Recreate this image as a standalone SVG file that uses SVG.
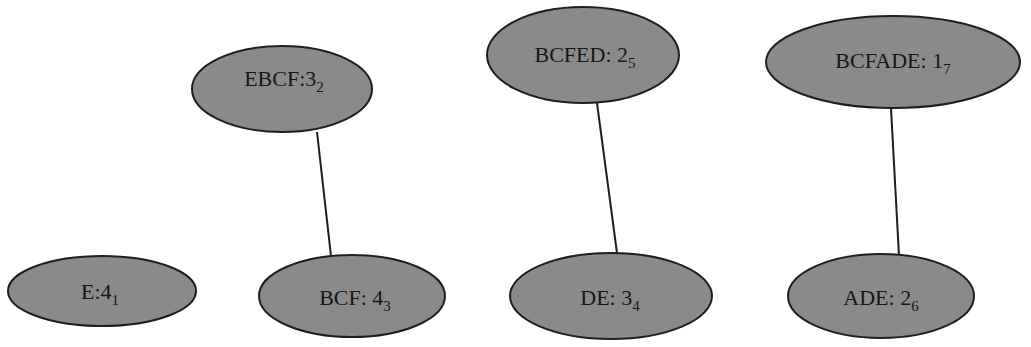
<svg xmlns="http://www.w3.org/2000/svg" width="1031" height="347" viewBox="0 0 1031 347">
<style>
.n{fill:#8a8a8a;stroke:#1e1e1e;stroke-width:2}
.t{font-family:"Liberation Serif",serif;font-size:22px;fill:#161616;text-anchor:middle}
.s{font-size:15px}
.e{stroke:#1e1e1e;stroke-width:2;fill:none}
</style>
<rect width="1031" height="347" fill="#ffffff"/>
<g id="edges">
<line class="e" x1="317" y1="132" x2="331" y2="256"/>
<line class="e" x1="597" y1="103" x2="617" y2="253"/>
<line class="e" x1="891" y1="108" x2="899" y2="256"/>
</g>
<g id="n1"><ellipse class="n" cx="282" cy="89" rx="90" ry="43"/><text class="t" x="284" y="86">EBCF:3<tspan class="s" dy="6">2</tspan></text></g>
<g id="n2"><ellipse class="n" cx="583" cy="55" rx="96" ry="48"/><text class="t" x="585" y="62">BCFED: 2<tspan class="s" dy="6">5</tspan></text></g>
<g id="n3"><ellipse class="n" cx="893" cy="62" rx="127" ry="46"/><text class="t" x="893" y="68">BCFADE: 1<tspan class="s" dy="6">7</tspan></text></g>
<g id="n4"><ellipse class="n" cx="102" cy="291" rx="94" ry="35"/><text class="t" x="100" y="299">E:4<tspan class="s" dy="6">1</tspan></text></g>
<g id="n5"><ellipse class="n" cx="352" cy="296" rx="93" ry="41"/><text class="t" x="355" y="305">BCF: 4<tspan class="s" dy="6">3</tspan></text></g>
<g id="n6"><ellipse class="n" cx="611" cy="296" rx="101" ry="43"/><text class="t" x="610" y="305">DE: 3<tspan class="s" dy="6">4</tspan></text></g>
<g id="n7"><ellipse class="n" cx="881" cy="296" rx="93" ry="42"/><text class="t" x="881" y="305">ADE: 2<tspan class="s" dy="6">6</tspan></text></g>
</svg>
